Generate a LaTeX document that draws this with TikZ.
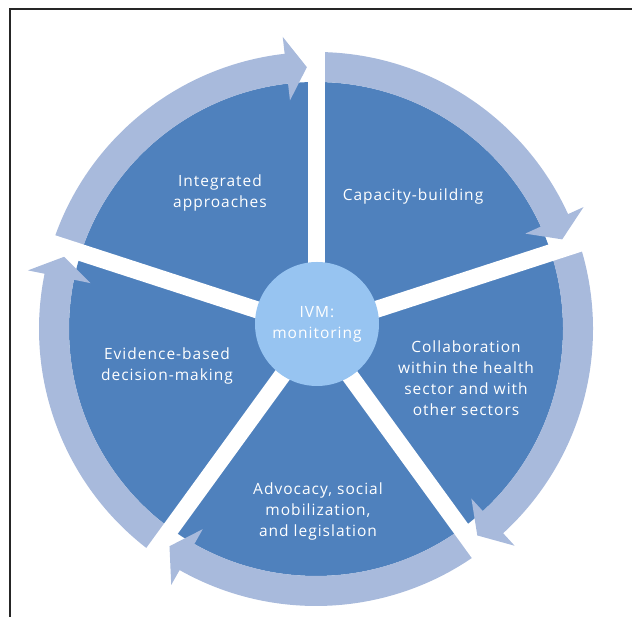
\documentclass[tikz,border=0pt]{standalone}
\usepackage{fontspec}
\setmainfont{Open Sans}[LetterSpace=6.5]
\usepackage{tikz}
\usetikzlibrary{calc}
\definecolor{sectorblue}{RGB}{79,129,189}
\definecolor{ringblue}{RGB}{168,186,220}
\definecolor{hubblue}{RGB}{151,196,241}

\begin{document}
\begin{tikzpicture}[x=1pt,y=1pt,
	sectortext/.style={text=white, align=center, font=\fontsize{15.5}{21}\selectfont},
	spoke/.style={white, line width=17pt},
	ringarrow/.style={fill=ringblue},
	hub/.style={fill=hubblue, shape=circle, minimum size=124pt, inner sep=0pt}]
	\useasboundingbox (0,0) rectangle (632,617);
	\draw [line width=2pt, black!85] (632,608) -- (10,608) -- (10,0);
	
	\coordinate (D) at (316,288);
	\coordinate (C) at (317,293);
	\fill [sectorblue] (D) circle (247);
	
	% ring arrows, clockwise
	\begin{scope}[shift={(D)}]
		\foreach \s in {90,18,-54,-126,162}{
			\pgfmathsetmacro\ao{\s+72}
			\pgfmathsetmacro\at{\s+2}
			\pgfmathsetmacro\ab{\s+6.5}
			\fill [ringarrow] (\ao:277) arc [start angle=\ao, end angle=\ab, radius=277]
				-- (\ab:294) -- (\at:262) -- (\ab:230) -- (\ab:247)
				arc [start angle=\ab, end angle=\ao, radius=247] -- cycle;
		}
	\end{scope}
	
	\foreach \s in {90,18,-54,-126,162}
		\draw [spoke] (D) -- ++(\s:300);
	
	\node [hub, sectortext] (hub) at (C) {IVM:\\monitoring};
	
	\node [sectortext] (integrated) at (220,424.5) {Integrated\\approaches};
	\node [sectortext] (capacity) at (413,421) {Capacity-building};
	\node [sectortext] (collab) at (466,238.5) {Collaboration\\within the health\\sector and with\\other sectors};
	\node [sectortext] (advocacy) at (318,106) {Advocacy, social\\mobilization,\\and legislation};
	\node [sectortext] (evidence) at (167,251) {Evidence-based\\decision-making};
\end{tikzpicture}
\end{document}
